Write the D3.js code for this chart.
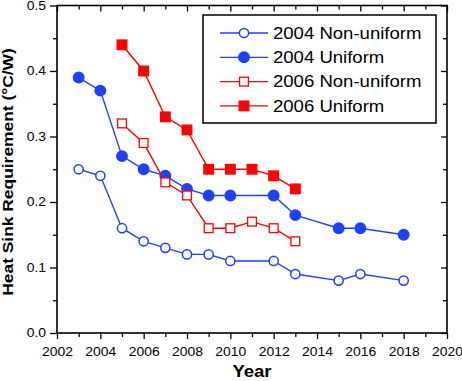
<!DOCTYPE html>
<html><head><meta charset="utf-8">
<script src="https://cdn.jsdelivr.net/npm/d3@7"></script>
<style>
body{margin:0;background:#fff;}
svg{display:block;font-family:"Liberation Sans",Arial,Helvetica,sans-serif;}
</style></head>
<body><svg id="c" width="462" height="381"></svg>
<script>
const years2004 = [2003,2004,2005,2006,2007,2008,2009,2010,2012,2013,2015,2016,2018];
const nonUniform2004 = [0.25,0.24,0.16,0.14,0.13,0.12,0.12,0.11,0.11,0.09,0.08,0.09,0.08];
const uniform2004 = [0.39,0.37,0.27,0.25,0.24,0.22,0.21,0.21,0.21,0.18,0.16,0.16,0.15];
const years2006 = [2005,2006,2007,2008,2009,2010,2011,2012,2013];
const nonUniform2006 = [0.32,0.29,0.23,0.21,0.16,0.16,0.17,0.16,0.14];
const uniform2006 = [0.44,0.40,0.33,0.31,0.25,0.25,0.25,0.24,0.22];
const seriesNames = ["2004 Non-uniform","2004 Uniform","2006 Non-uniform","2006 Uniform"];
const xMajorTicks = [2002,2004,2006,2008,2010,2012,2014,2016,2018,2020];
const xMinorTicks = [2003,2005,2007,2009,2011,2013,2015,2017,2019];
const yMajorTicks = [0,0.1,0.2,0.3,0.4,0.5];
const yMinorTicks = [0.05,0.15,0.25,0.35,0.45];

const BLUE = "#2040ff", RED = "#ff0000";
const series = [
  {name: seriesNames[0], xs: years2004, ys: nonUniform2004, color: BLUE, shape: "circle", filled: false},
  {name: seriesNames[1], xs: years2004, ys: uniform2004, color: BLUE, shape: "circle", filled: true},
  {name: seriesNames[2], xs: years2006, ys: nonUniform2006, color: RED, shape: "square", filled: false},
  {name: seriesNames[3], xs: years2006, ys: uniform2006, color: RED, shape: "square", filled: true}
];

const L = 57, R = 447, T = 5.5, B = 333;
const x = d3.scaleLinear().domain([2002,2020]).range([L,R]);
const y = d3.scaleLinear().domain([0,0.5]).range([B,T]);
const svg = d3.select("#c");
const SX = 1.16;

function styleAxis(g){
  g.select(".domain").remove();
  g.selectAll("line").attr("stroke","#000").attr("stroke-width",1.3);
  g.selectAll("text").attr("fill","#000").attr("font-size",12);
}
// bottom axis
const gb = svg.append("g").attr("transform",`translate(0,${B})`)
  .call(d3.axisBottom(x).tickValues(xMajorTicks).tickFormat(d3.format("d")).tickSize(6).tickPadding(8));
styleAxis(gb);
gb.selectAll("text").attr("x",0).attr("transform",`scale(${SX},1)`);
const gbm = svg.append("g").attr("transform",`translate(0,${B})`)
  .call(d3.axisBottom(x).tickValues(xMinorTicks).tickFormat("").tickSize(4));
styleAxis(gbm);
// top axis inward
const gt = svg.append("g").attr("transform",`translate(0,${T})`)
  .call(d3.axisBottom(x).tickValues(xMajorTicks).tickFormat("").tickSize(6));
styleAxis(gt);
const gtm = svg.append("g").attr("transform",`translate(0,${T})`)
  .call(d3.axisBottom(x).tickValues(xMinorTicks).tickFormat("").tickSize(4));
styleAxis(gtm);
// left axis
const gl = svg.append("g").attr("transform",`translate(${L},0)`)
  .call(d3.axisLeft(y).tickValues(yMajorTicks).tickFormat(d3.format(".1f")).tickSize(7).tickPadding(4));
styleAxis(gl);
gl.selectAll("text").attr("x",-11/SX).attr("transform",`scale(${SX},1)`);
const glm = svg.append("g").attr("transform",`translate(${L},0)`)
  .call(d3.axisLeft(y).tickValues(yMinorTicks).tickFormat("").tickSize(4));
styleAxis(glm);
// right axis inward
const gr = svg.append("g").attr("transform",`translate(${R},0)`)
  .call(d3.axisLeft(y).tickValues(yMajorTicks).tickFormat("").tickSize(6));
styleAxis(gr);
const grm = svg.append("g").attr("transform",`translate(${R},0)`)
  .call(d3.axisLeft(y).tickValues(yMinorTicks).tickFormat("").tickSize(4));
styleAxis(grm);

// frame
svg.append("rect").attr("x",L).attr("y",T).attr("width",R-L).attr("height",B-T)
  .attr("fill","none").attr("stroke","#000").attr("stroke-width",1.6);

function drawMarker(g, s, cx, cy){
  if(s.shape==="circle"){
    g.append("circle").attr("cx",cx).attr("cy",cy).attr("r", s.filled?5.2:4.6)
      .attr("fill", s.filled?s.color:"#fff").attr("stroke",s.color).attr("stroke-width",1.5);
  } else {
    const h = s.filled?4.8:4.4;
    g.append("rect").attr("x",cx-h).attr("y",cy-h).attr("width",2*h).attr("height",2*h)
      .attr("fill", s.filled?s.color:"#fff").attr("stroke",s.color).attr("stroke-width",1.3);
  }
}

const line = d3.line().x(d=>x(d[0])).y(d=>y(d[1]));
series.forEach(s=>{
  const pts = s.xs.map((v,i)=>[v,s.ys[i]]);
  const g = svg.append("g");
  g.append("path").attr("d",line(pts)).attr("fill","none").attr("stroke",s.color).attr("stroke-width",1.4);
  pts.forEach(p=>drawMarker(g,s,x(p[0]),y(p[1])));
});

// legend
const lg = svg.append("g");
lg.append("rect").attr("x",203).attr("y",15).attr("width",233).attr("height",108)
  .attr("fill","#fff").attr("stroke","#000").attr("stroke-width",1.5);
series.forEach((s,i)=>{
  const yy = 33 + i*24.3;
  lg.append("line").attr("x1",220).attr("x2",268).attr("y1",yy).attr("y2",yy)
    .attr("stroke",s.color).attr("stroke-width",1.3);
  drawMarker(lg,s,244,yy);
  lg.append("text").attr("x",273/SX).attr("y",yy+5.8).attr("transform",`scale(${SX},1)`)
    .attr("font-size",16).attr("fill","#000").text(s.name);
});

// axis titles
svg.append("text").attr("transform",`translate(${(L+R)/2},377) scale(${SX},1)`).attr("text-anchor","middle")
  .attr("font-weight","bold").attr("font-size",16).text("Year");
svg.append("text").attr("transform",`translate(13,172) rotate(-90) scale(${SX},1)`)
  .attr("text-anchor","middle").attr("font-weight","bold").attr("font-size",15)
  .text("Heat Sink Requirement (°C/W)");
</script></body></html>
